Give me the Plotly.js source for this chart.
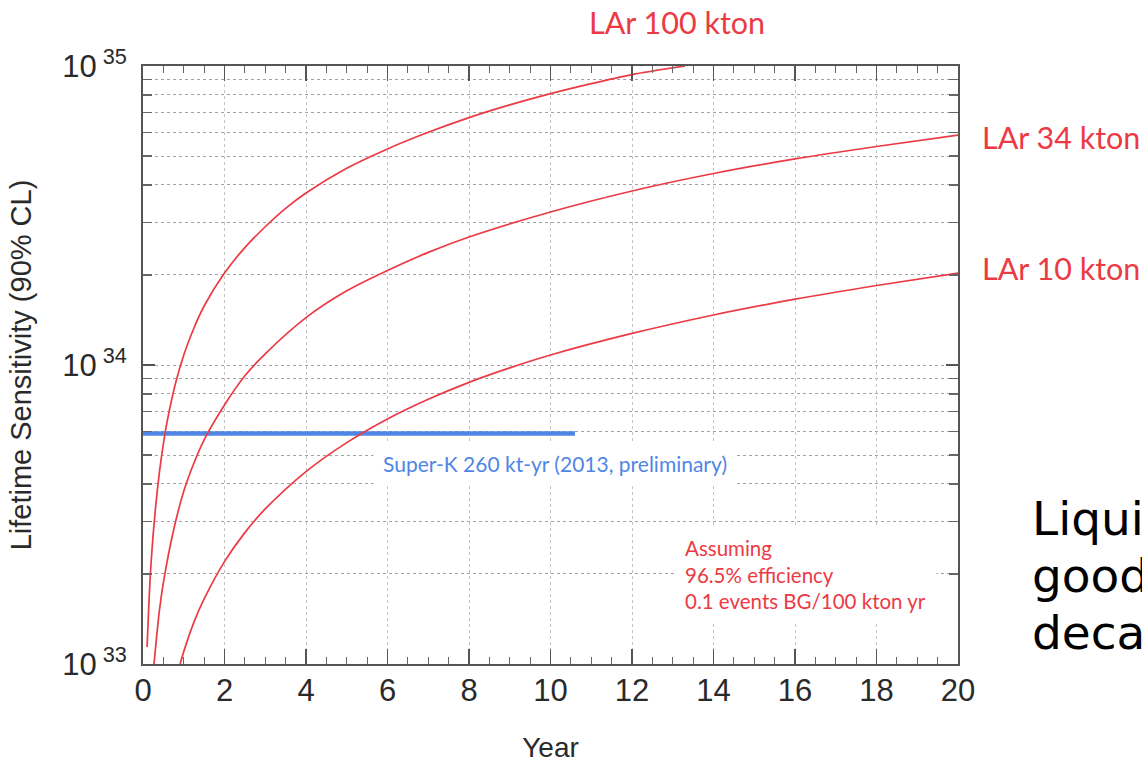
<!DOCTYPE html>
<html>
<head>
<meta charset="utf-8">
<script src="https://cdn.plot.ly/plotly-3.0.1.min.js"></script>
<style>
  html, body { margin: 0; padding: 0; background: #ffffff; }
  #chart { width: 1142px; height: 763px; }
</style>
</head>
<body>
<div id="chart"></div>
<script>
// Proton-decay lifetime sensitivity (90% CL) vs. running time for liquid-argon detectors
const years100 = [0.1, 0.15, 0.2, 0.3, 0.4, 0.5, 0.6, 0.8, 1.0, 1.25, 1.5, 2, 2.5, 3, 3.5, 4, 5, 6, 7, 8, 9, 10, 11, 12, 13.3];
const life100  = [1.14e33, 1.65e33, 2.2e33, 3.25e33, 4.35e33, 5.45e33, 6.55e33, 8.7e33, 1.08e34, 1.33e34, 1.575e34, 2.03e34, 2.47e34, 2.9e34, 3.34e34, 3.76e34, 4.55e34, 5.28e34, 6.0e34, 6.72e34, 7.41e34, 8.08e34, 8.73e34, 9.36e34, 1.0e35];

const years34 = [0.27, 0.4, 0.5, 0.75, 1.0, 1.25, 1.5, 2, 2.5, 3, 4, 5, 6, 7, 8, 10, 12, 14, 16, 18, 20];
const life34  = [1.0e33, 1.5e33, 1.87e33, 2.8e33, 3.78e33, 4.7e33, 5.62e33, 7.35e33, 9.2e33, 1.09e34, 1.44e34, 1.77e34, 2.07e34, 2.38e34, 2.68e34, 3.25e34, 3.82e34, 4.37e34, 4.89e34, 5.38e34, 5.87e34];

const years10 = [0.91, 1.0, 1.25, 1.5, 2, 2.5, 3, 4, 5, 6, 7, 8, 9, 10, 12, 14, 16, 18, 20];
const life10  = [1.0e33, 1.1e33, 1.38e33, 1.65e33, 2.2e33, 2.75e33, 3.3e33, 4.4e33, 5.5e33, 6.6e33, 7.68e33, 8.75e33, 9.78e33, 1.08e34, 1.275e34, 1.47e34, 1.66e34, 1.845e34, 2.03e34];

// Super-K limit (260 kt-yr), drawn out to 10.6 years
const superKYears = [0, 10.6];
const superKLife  = [5.9e33, 5.9e33];

const yTickVals  = [1e33, 1e34, 1e35];
const yTickText  = ["10<sup> 33</sup>", "10<sup> 34</sup>", "10<sup> 35</sup>"];

const seriesNames = ["LAr 100 kton", "LAr 34 kton", "LAr 10 kton"];
const superKLabel = "Super-K 260 kt-yr (2013, preliminary)";
const assumptionLines = ["Assuming", "96.5% efficiency", "0.1 events BG/100 kton yr"];
const sideTextLines = ["Liquid", "good", "decay"];

const RED = "#ec3a44";
const BLUE = "#4f86e6";
const labelFont = "Lato, 'Open Sans', sans-serif";
const axisFont = "'Liberation Sans', Arial, sans-serif";

const curve = (x, y, name) => ({
  x: x, y: y, name: name, type: "scatter", mode: "lines",
  line: { color: RED, width: 1.7, shape: "spline", smoothing: 0.8 },
  hoverinfo: "x+y+name"
});

const traces = [
  { x: superKYears, y: superKLife, type: "scatter", mode: "lines",
    name: "Super-K", line: { color: BLUE, width: 4.5 } },
  curve(years100, life100, seriesNames[0]),
  curve(years34, life34, seriesNames[1]),
  curve(years10, life10, seriesNames[2])
];

// Slide text beside the plot, running past the right edge of the page
const sideAnnotations = sideTextLines.map((t, i) => ({
  xref: "paper", yref: "paper", x: 1.088, y: 0.244 - i * 0.0953,
  xanchor: "left", yanchor: "middle", text: t, showarrow: false,
  font: { family: "'DejaVu Sans', sans-serif", size: 47, color: "#000000" }
}));

const layout = {
  width: 1142, height: 763,
  margin: { l: 143, r: 184, t: 66, b: 99, pad: 0 },
  paper_bgcolor: "#ffffff", plot_bgcolor: "#ffffff",
  showlegend: false,
  xaxis: {
    range: [0, 20], dtick: 2, tick0: 0,
    showline: true, linecolor: "#555", linewidth: 2, mirror: "ticks",
    ticks: "inside", ticklen: 15, tickwidth: 1.3, tickcolor: "#555",
    showgrid: true, gridcolor: "#c4c4c4", gridwidth: 1, griddash: "dot",
    zeroline: false,
    tickfont: { family: axisFont, size: 31, color: "#2a2a2a" },
    ticklabelstandoff: -2,
    minor: { dtick: 0.5, ticks: "inside", ticklen: 7, tickcolor: "#666", tickwidth: 1, showgrid: false },
    title: { text: "Year", font: { family: axisFont, size: 28, color: "#2a2a2a" }, standoff: 40 }
  },
  yaxis: {
    type: "log", range: [33, 35],
    tickvals: yTickVals, ticktext: yTickText,
    showline: true, linecolor: "#555", linewidth: 2, mirror: "ticks",
    ticks: "inside", ticklen: 12, tickwidth: 1.3, tickcolor: "#555",
    showgrid: true, gridcolor: "#a2a2a2", gridwidth: 1, griddash: "dot",
    zeroline: false,
    tickfont: { family: axisFont, size: 31, color: "#2a2a2a" },
    ticklabelstandoff: 8,
    minor: { dtick: "D1", ticks: "inside", ticklen: 9, tickcolor: "#666", tickwidth: 1.2,
             showgrid: true, gridcolor: "#a2a2a2", gridwidth: 1, griddash: "dot" },
    title: { text: "Lifetime Sensitivity (90% CL)", font: { family: axisFont, size: 29, color: "#2a2a2a" }, standoff: 22 }
  },
  annotations: [
    { xref: "paper", yref: "paper", x: 0.655, y: 1.0736, xanchor: "center", yanchor: "middle",
      text: seriesNames[0], showarrow: false, font: { family: labelFont, size: 30.5, color: RED } },
    { xref: "paper", yref: "paper", x: 1.027, y: 0.881, xanchor: "left", yanchor: "middle",
      text: seriesNames[1], showarrow: false, font: { family: labelFont, size: 30.5, color: RED } },
    { xref: "paper", yref: "paper", x: 1.027, y: 0.662, xanchor: "left", yanchor: "middle",
      text: seriesNames[2], showarrow: false, font: { family: labelFont, size: 30.5, color: RED } },
    { xref: "paper", yref: "paper", x: 0.282, y: 0.336, xanchor: "left", yanchor: "middle",
      text: superKLabel, showarrow: false, bgcolor: "#ffffff", borderpad: 9,
      font: { family: labelFont, size: 21, color: BLUE } },
    { xref: "paper", yref: "paper", x: 0.652, y: 0.149, xanchor: "left", yanchor: "middle",
      text: assumptionLines.join("<br>"), align: "left", showarrow: false, bgcolor: "#ffffff", borderpad: 10,
      font: { family: labelFont, size: 20.5, color: RED } }
  ].concat(sideAnnotations)
};

Plotly.newPlot("chart", traces, layout, { displayModeBar: false, staticPlot: true });
</script>
</body>
</html>
